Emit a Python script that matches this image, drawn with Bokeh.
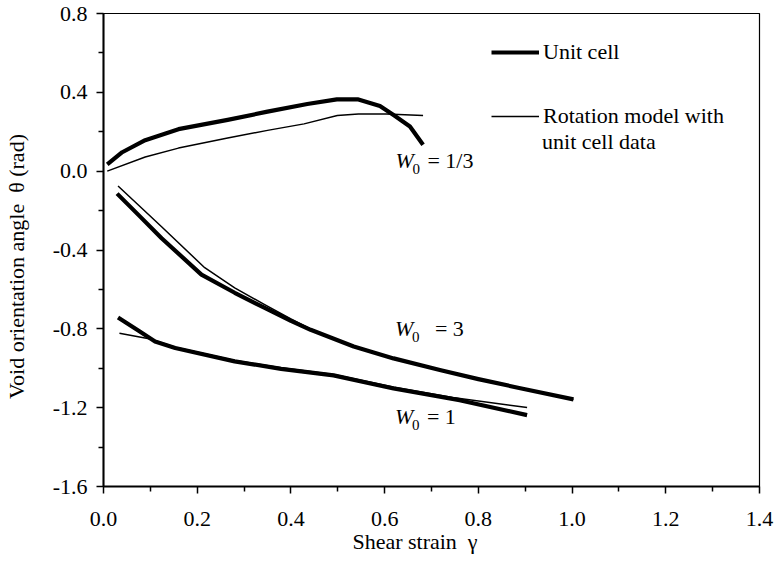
from bokeh.plotting import figure
from bokeh.models import (Range1d, FixedTicker, NumeralTickFormatter, Legend, LegendItem,
                          ColumnDataSource)
from bokeh.core.properties import value
from bokeh.embed import file_html
from bokeh.resources import INLINE

# ---- data ----
# W0 = 1/3, unit cell (thick)
x13_cell = [0.008, 0.040, 0.089, 0.160, 0.265, 0.350, 0.435, 0.498, 0.544, 0.590, 0.619, 0.654, 0.682]
y13_cell = [0.034, 0.096, 0.157, 0.213, 0.260, 0.302, 0.341, 0.364, 0.364, 0.331, 0.285, 0.227, 0.134]
# W0 = 1/3, rotation model (thin)
x13_rot = [0.008, 0.089, 0.160, 0.265, 0.350, 0.428, 0.499, 0.544, 0.604, 0.682]
y13_rot = [0.000, 0.072, 0.117, 0.168, 0.207, 0.240, 0.282, 0.290, 0.290, 0.282]
# W0 = 3, unit cell (thick)
x3_cell = [0.029, 0.075, 0.124, 0.209, 0.280, 0.343, 0.400, 0.442, 0.534, 0.619, 0.720, 0.800, 0.887, 1.003]
y3_cell = [-0.114, -0.223, -0.340, -0.525, -0.617, -0.693, -0.760, -0.805, -0.890, -0.950, -1.010, -1.055, -1.100, -1.158]
# W0 = 3, rotation model (thin)
x3_rot = [0.031, 0.075, 0.124, 0.216, 0.280, 0.343, 0.400, 0.442, 0.534, 0.619, 0.720, 0.800, 0.887, 1.003]
y3_rot = [-0.075, -0.173, -0.282, -0.490, -0.592, -0.676, -0.750, -0.800, -0.890, -0.950, -1.010, -1.055, -1.100, -1.158]
# W0 = 1, unit cell (thick)
x1_cell = [0.031, 0.075, 0.110, 0.153, 0.280, 0.379, 0.491, 0.619, 0.760, 0.904]
y1_cell = [-0.743, -0.810, -0.864, -0.897, -0.965, -1.003, -1.036, -1.103, -1.162, -1.238]
# W0 = 1, rotation model (thin)
x1_rot = [0.034, 0.100, 0.153, 0.280, 0.379, 0.491, 0.619, 0.745, 0.904]
y1_rot = [-0.822, -0.852, -0.893, -0.960, -0.998, -1.032, -1.095, -1.148, -1.199]

x_ticks = [0.0, 0.2, 0.4, 0.6, 0.8, 1.0, 1.2, 1.4]
x_minor = [0.1, 0.3, 0.5, 0.7, 0.9, 1.1, 1.3]
y_ticks = [-1.6, -1.2, -0.8, -0.4, 0.0, 0.4, 0.8]
y_minor = [-1.4, -1.0, -0.6, -0.2, 0.2, 0.6]

curve_names = ["= 1/3", "= 3", "= 1"]
legend_labels = ["Unit cell", "Rotation model with", "unit cell data"]
x_title = "Shear strain\u00a0\u00a0γ"
y_title = "Void orientation angle\u00a0\u00a0θ (rad)"

FONT = "Liberation Serif"
PAD = "\u00a0" * 6  # invisible padding that shifts the centred axis titles like the reference

p = figure(width=774, height=563, output_backend="svg", toolbar_location=None,
           x_range=Range1d(0, 1.4), y_range=Range1d(-1.6, 0.8),
           min_border_left=98, min_border_right=15, min_border_top=13, min_border_bottom=77)
p.background_fill_color = "white"
p.border_fill_color = "white"
p.outline_line_color = "black"
p.outline_line_width = 1.2
p.xgrid.visible = False
p.ygrid.visible = False

thin = p.multi_line(xs=[x13_rot, x3_rot, x1_rot], ys=[y13_rot, y3_rot, y1_rot],
                    line_color="black", line_width=1.5, line_join="round")
thick = p.multi_line(xs=[x13_cell, x3_cell, x1_cell], ys=[y13_cell, y3_cell, y1_cell],
                     line_color="black", line_width=4.2, line_join="round")

# axes
p.xaxis.ticker = FixedTicker(ticks=x_ticks, minor_ticks=x_minor)
p.yaxis.ticker = FixedTicker(ticks=y_ticks, minor_ticks=y_minor)
p.xaxis.formatter = NumeralTickFormatter(format="0.0")
p.yaxis.formatter = NumeralTickFormatter(format="0.0")
p.xaxis.axis_label = x_title + PAD
p.yaxis.axis_label = y_title + PAD
for ax in (p.xaxis[0], p.yaxis[0]):
    ax.axis_line_width = 2
    ax.axis_line_color = "black"
    ax.major_tick_line_width = 1.5
    ax.minor_tick_line_width = 1.5
    ax.major_tick_out = 7
    ax.major_tick_in = 0
    ax.minor_tick_out = 5
    ax.minor_tick_in = 0
    ax.major_label_text_font = FONT
    ax.major_label_text_font_size = "22px"
    ax.major_label_text_color = "black"
    ax.axis_label_text_font = FONT
    ax.axis_label_text_font_size = "22px"
    ax.axis_label_text_font_style = "normal"
    ax.axis_label_text_color = "black"
p.xaxis.major_label_standoff = 18
p.xaxis.axis_label_standoff = 0
p.yaxis.major_label_standoff = 9
p.yaxis.axis_label_standoff = 21

# curve labels W0 = ...
lab = ColumnDataSource(dict(x=[0.623, 0.622, 0.622], y=[0.055, -0.797, -1.244],
                            rest=curve_names, dx=[32, 40, 32]))
p.text(x="x", y="y", text=value("W"), source=lab, text_font=value(FONT),
       text_font_style="italic", text_font_size="22px", text_baseline="middle",
       text_align="left", text_color="black")
p.text(x="x", y="y", text=value("0"), source=lab, text_font=value(FONT),
       text_font_size="15px", text_baseline="middle", text_align="left",
       x_offset=17, y_offset=9, text_color="black")
p.text(x="x", y="y", text="rest", source=lab, text_font=value(FONT),
       text_font_size="22px", text_baseline="middle", text_align="left",
       x_offset="dx", text_color="black")

# legend
legend = Legend(items=[LegendItem(label=legend_labels[0], renderers=[thick]),
                       LegendItem(label=legend_labels[1], renderers=[thin])],
                location=(388, 357), glyph_width=48, glyph_height=26, label_height=26,
                label_standoff=4, spacing=38, padding=0, margin=0,
                border_line_color=None, background_fill_alpha=0,
                label_text_font=FONT, label_text_font_size="22px", label_text_color="black")
p.add_layout(legend)
p.text(x=[0.936], y=[0.150], text=[legend_labels[2]], text_font=value(FONT),
       text_font_size="22px", text_baseline="middle", text_align="left", text_color="black")

open("out.html", "w").write(file_html(p, INLINE))
